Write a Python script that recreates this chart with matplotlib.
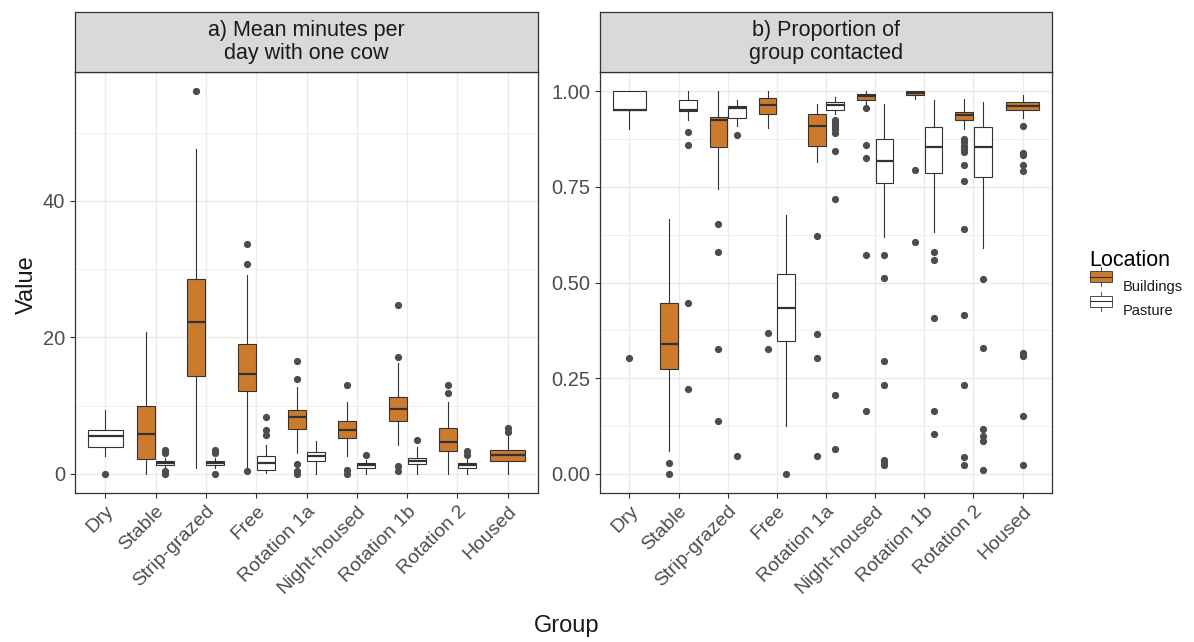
import matplotlib
matplotlib.use("Agg")
from matplotlib import pyplot as plt
from matplotlib.patches import Rectangle
from matplotlib.lines import Line2D
from matplotlib.legend_handler import HandlerBase
import numpy as np

plt.rcParams['font.family'] = ['Liberation Sans', 'DejaVu Sans']

groups = ["Dry", "Stable", "Strip-grazed", "Free", "Rotation 1a",
          "Night-housed", "Rotation 1b", "Rotation 2", "Housed"]

# panel a) mean minutes per day with one cow  (None = no data for that location)
a_bld_q1 = [None, 2.2, 14.3, 12.1, 6.6, 5.2, 7.8, 3.3, 1.85]
a_bld_med = [None, 5.8, 22.2, 14.7, 8.4, 6.5, 9.5, 4.7, 2.7]
a_bld_q3 = [None, 10.0, 28.5, 19.1, 9.4, 7.7, 11.2, 6.7, 3.55]
a_bld_lo = [None, 0.0, 0.9, 0.9, 3.1, 2.6, 4.3, 0.0, 0.0]
a_bld_hi = [None, 20.8, 47.6, 29.2, 12.8, 10.6, 16.2, 10.6, 5.5]
a_bld_out = [[], [], [56.1], [33.7, 30.7, 0.4], [16.5, 13.9, 1.4, 0.4, 0.0],
             [13.1, 0.6, 0.0], [24.8, 17.1, 1.1, 0.4], [13.1, 11.9], [6.7, 6.2]]

a_pas_q1 = [4.0, 1.35, 1.3, 0.6, 1.95, 0.9, 1.4, 0.9, None]
a_pas_med = [5.5, 1.65, 1.6, 1.6, 2.6, 1.3, 1.85, 1.3, None]
a_pas_q3 = [6.4, 1.95, 1.95, 2.6, 3.2, 1.6, 2.4, 1.6, None]
a_pas_lo = [2.6, 1.0, 0.9, 0.15, 0.0, 0.0, 0.0, 0.0, None]
a_pas_hi = [9.4, 2.3, 2.3, 4.3, 4.8, 2.1, 4.0, 2.3, None]
a_pas_out = [[0.0], [3.5, 3.1, 0.4, 0.0], [3.5, 3.1, 0.0], [8.4, 6.5, 5.7], [],
             [2.8], [5.0], [3.4, 2.8], []]

# panel b) proportion of group contacted
b_bld_q1 = [None, 0.275, 0.854, 0.941, 0.857, 0.978, 0.989, 0.924, 0.95]
b_bld_med = [None, 0.339, 0.924, 0.963, 0.909, 0.987, 0.995, 0.937, 0.961]
b_bld_q3 = [None, 0.446, 0.932, 0.982, 0.939, 0.993, 1.0, 0.945, 0.971]
b_bld_lo = [None, 0.059, 0.745, 0.904, 0.815, 0.967, 0.98, 0.902, 0.93]
b_bld_hi = [None, 0.667, 1.0, 1.0, 0.967, 1.0, 1.0, 0.98, 0.989]
b_bld_out = [[], [0.029, 0.0], [0.652, 0.58, 0.326, 0.139], [0.369, 0.326],
             [0.621, 0.366, 0.302, 0.046], [0.956, 0.86, 0.826, 0.572, 0.163],
             [0.793, 0.605],
             [0.874, 0.867, 0.857, 0.848, 0.841, 0.808, 0.765, 0.639, 0.415,
              0.233, 0.043, 0.023],
             [0.91, 0.838, 0.832, 0.808, 0.791, 0.317, 0.308, 0.15, 0.023]]

b_pas_q1 = [0.95, 0.948, 0.93, 0.348, 0.952, 0.761, 0.786, 0.776, None]
b_pas_med = [0.95, 0.95, 0.955, 0.433, 0.963, 0.817, 0.854, 0.854, None]
b_pas_q3 = [1.0, 0.976, 0.96, 0.521, 0.971, 0.874, 0.906, 0.906, None]
b_pas_lo = [0.9, 0.924, 0.91, 0.124, 0.94, 0.619, 0.632, 0.589, None]
b_pas_hi = [1.0, 1.0, 0.978, 0.676, 0.984, 0.967, 0.978, 0.971, None]
b_pas_out = [[0.302], [0.893, 0.86, 0.446, 0.222], [0.886, 0.046], [0.0],
             [0.925, 0.917, 0.91, 0.9, 0.891, 0.843, 0.717, 0.207, 0.065],
             [0.572, 0.513, 0.294, 0.233, 0.037, 0.031, 0.024],
             [0.58, 0.559, 0.408, 0.163, 0.104],
             [0.509, 0.328, 0.117, 0.098, 0.087, 0.009], []]

BLD = "#CC7A2E"
PAS = "#FFFFFF"
EDGE = "#333333"
GRID = "#EBEBEB"
TXT = "#4D4D4D"


def make_stats(q1, med, q3, lo, hi, out):
    res = []
    for i in range(len(q1)):
        if q1[i] is None:
            res.append(None)
        else:
            res.append(dict(q1=q1[i], med=med[i], q3=q3[i], whislo=lo[i],
                            whishi=hi[i], fliers=out[i]))
    return res


def draw_panel(ax, bld, pas):
    for i in range(len(groups)):
        for st, col, side in ((bld[i], BLD, -1), (pas[i], PAS, 1)):
            if st is None:
                continue
            other = pas[i] if side == -1 else bld[i]
            if other is None:
                pos, w = i, 0.69
            else:
                pos, w = i + side * 0.19, 0.36
            ax.bxp([st], positions=[pos], widths=w, patch_artist=True,
                   showcaps=False, manage_ticks=False,
                   boxprops=dict(facecolor=col, edgecolor=EDGE, linewidth=0.8),
                   whiskerprops=dict(color=EDGE, linewidth=0.8),
                   medianprops=dict(color=EDGE, linewidth=1.6),
                   flierprops=dict(marker='o', markersize=4.2,
                                   markerfacecolor=TXT, markeredgecolor=TXT),
                   zorder=3)
    ax.set_xlim(-0.6, len(groups) - 0.4)
    ax.set_xticks(range(len(groups)))
    ax.set_xticklabels(groups, rotation=45, ha='right', rotation_mode='anchor',
                       color=TXT)
    ax.tick_params(axis='both', colors=EDGE, length=3.5, width=0.8,
                   labelcolor=TXT, labelsize=14.5)
    ax.tick_params(axis='x', labelsize=14)
    ax.grid(True, which='major', color=GRID, linewidth=1.0, zorder=0)
    ax.grid(True, which='minor', axis='y', color=GRID, linewidth=0.5, zorder=0)
    ax.set_axisbelow(True)
    for s in ax.spines.values():
        s.set_color(EDGE)
        s.set_linewidth(0.9)


def strip(fig, rect, text):
    sax = fig.add_axes(rect)
    sax.set_facecolor("#D9D9D9")
    sax.set_xticks([])
    sax.set_yticks([])
    for s in sax.spines.values():
        s.set_color(EDGE)
        s.set_linewidth(0.9)
    sax.text(0.5, 0.5, text, ha='center', va='center', fontsize=15.5,
             color="#1A1A1A", linespacing=1.15, transform=sax.transAxes)


fig = plt.figure(figsize=(11.94, 6.42), dpi=100)
W, H = 1194, 642

ax1 = fig.add_axes([75 / W, 1 - 493 / H, 463 / W, 421 / H])
ax2 = fig.add_axes([600 / W, 1 - 493 / H, 452 / W, 421 / H])

draw_panel(ax1, make_stats(a_bld_q1, a_bld_med, a_bld_q3, a_bld_lo, a_bld_hi, a_bld_out),
           make_stats(a_pas_q1, a_pas_med, a_pas_q3, a_pas_lo, a_pas_hi, a_pas_out))
ax1.set_ylim(-2.8, 58.9)
ax1.set_yticks([0, 20, 40])
ax1.set_yticks([10, 30, 50], minor=True)
ax1.tick_params(axis='y', which='minor', length=0)

draw_panel(ax2, make_stats(b_bld_q1, b_bld_med, b_bld_q3, b_bld_lo, b_bld_hi, b_bld_out),
           make_stats(b_pas_q1, b_pas_med, b_pas_q3, b_pas_lo, b_pas_hi, b_pas_out))
ax2.set_ylim(-0.05, 1.05)
ax2.set_yticks([0, 0.25, 0.5, 0.75, 1.0])
ax2.set_yticklabels(["0.00", "0.25", "0.50", "0.75", "1.00"])
ax2.set_yticks([0.125, 0.375, 0.625, 0.875], minor=True)
ax2.tick_params(axis='y', which='minor', length=0)

strip(fig, [75 / W, 1 - 72 / H, 463 / W, 60 / H], "a) Mean minutes per\nday with one cow")
strip(fig, [600 / W, 1 - 72 / H, 452 / W, 60 / H], "b) Proportion of\ngroup contacted")

fig.text(27 / W, 1 - 285 / H, "Value", rotation=90, ha='center', va='center',
         fontsize=17, color="#1A1A1A")
fig.text(567 / W, 1 - 626 / H, "Group", ha='center', va='center',
         fontsize=17, color="#1A1A1A")


class BoxKey(HandlerBase):
    def create_artists(self, legend, orig_handle, xdescent, ydescent,
                       width, height, fontsize, trans):
        col = orig_handle.get_facecolor()
        r = Rectangle((xdescent, ydescent + height * 0.2),
                      width, height * 0.6, facecolor=col,
                      edgecolor=EDGE, linewidth=0.6, transform=trans)
        m = Line2D([xdescent, xdescent + width],
                   [ydescent + height * 0.5] * 2, color=EDGE, lw=0.8,
                   transform=trans)
        w1 = Line2D([xdescent + width * 0.5] * 2,
                    [ydescent, ydescent + height * 0.2],
                    color=EDGE, lw=0.6, transform=trans)
        w2 = Line2D([xdescent + width * 0.5] * 2,
                    [ydescent + height * 0.8, ydescent + height],
                    color=EDGE, lw=0.6, transform=trans)
        return [r, m, w1, w2]


handles = [Rectangle((0, 0), 1, 1, facecolor=BLD), Rectangle((0, 0), 1, 1, facecolor=PAS)]
leg = fig.legend(handles, ["Buildings", "Pasture"], title="Location",
                 loc='upper left', bbox_to_anchor=(1078 / W, 1 - 238 / H),
                 frameon=False, fontsize=10.5, title_fontsize=15.5,
                 handler_map={Rectangle: BoxKey()}, handlelength=1.5,
                 handleheight=1.6, labelspacing=0.4, handletextpad=0.8,
                 borderpad=0.3)
leg._legend_box.align = "left"
for t in leg.get_texts():
    t.set_color("#1A1A1A")

fig.savefig("out.png", dpi=100)
